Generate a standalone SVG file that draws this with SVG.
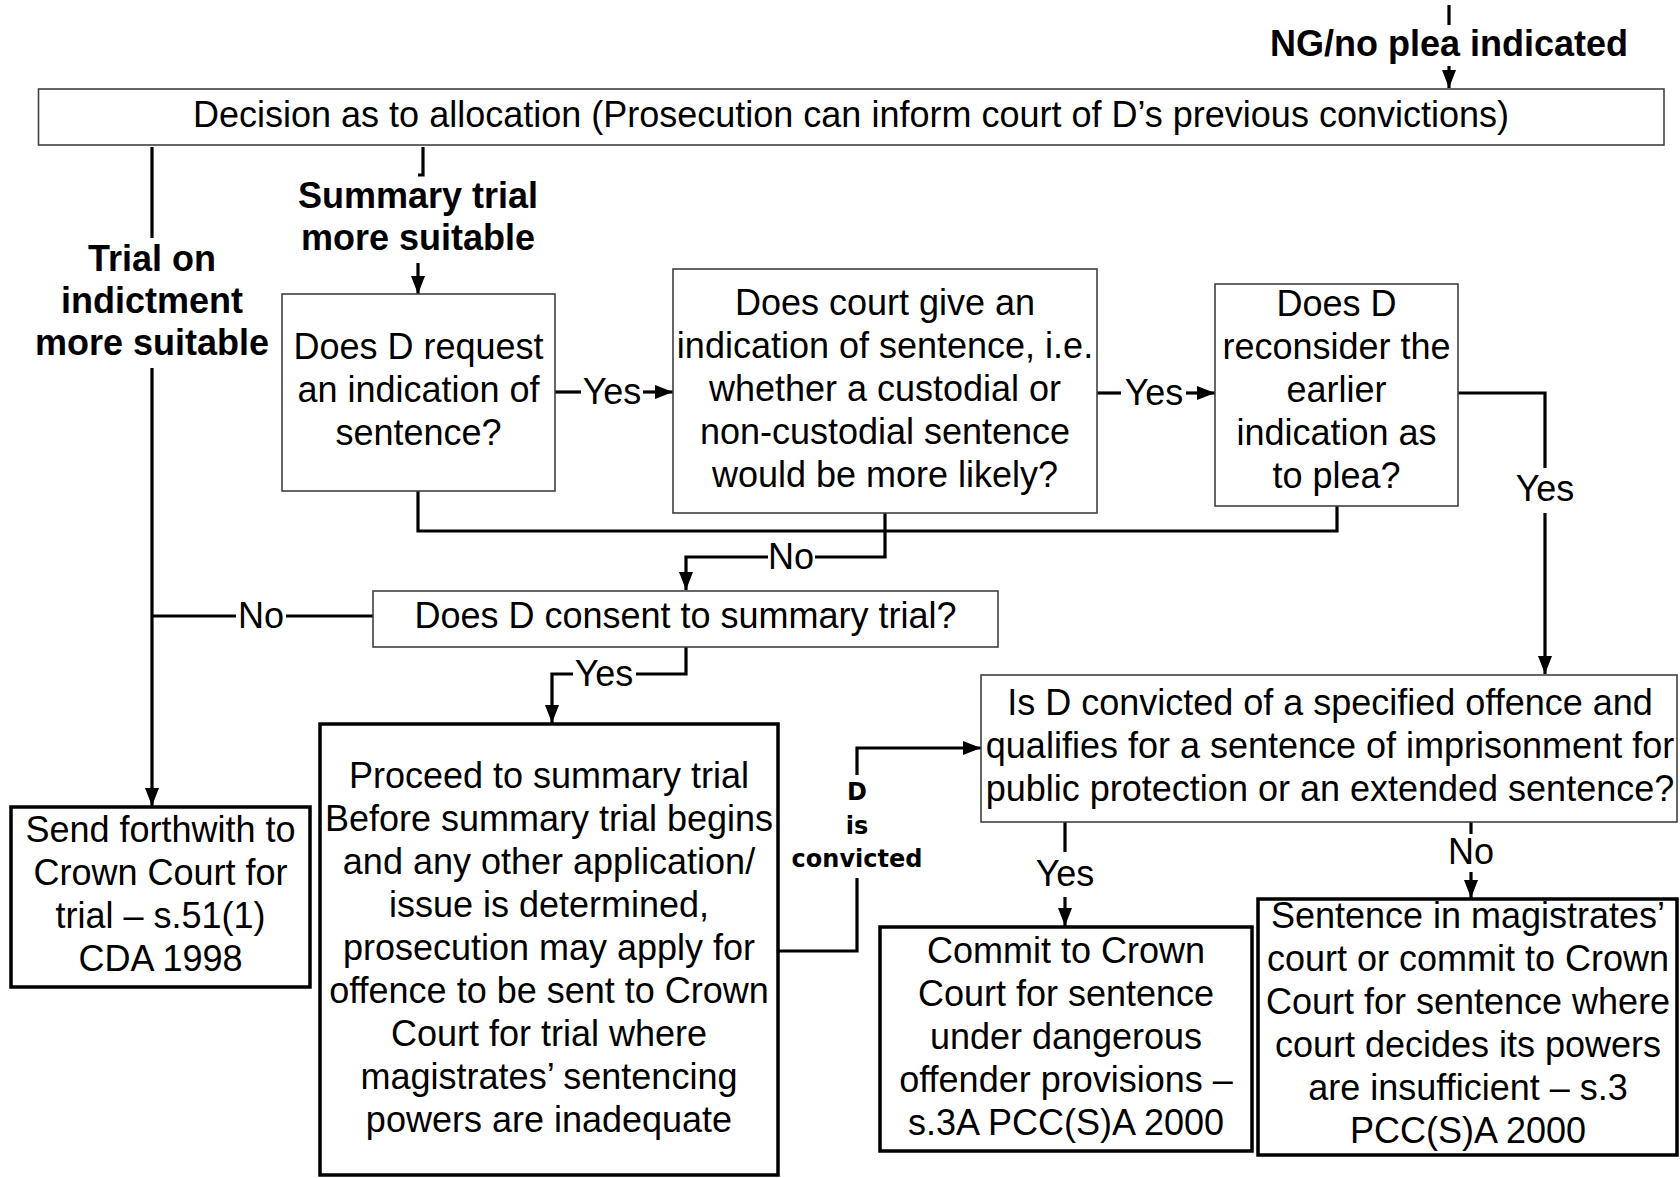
<svg xmlns="http://www.w3.org/2000/svg" width="1680" height="1178" viewBox="0 0 1680 1178">
<style>
.bg{fill:#fff}
.thin{fill:#fff;stroke:#404040;stroke-width:1.6}
.thick{fill:#fff;stroke:#000;stroke-width:3.5}
.t{font-family:"Liberation Sans",Arial,sans-serif;font-size:36px;fill:#000;text-anchor:middle}
.b{font-family:"Liberation Sans",Arial,sans-serif;font-size:36px;font-weight:bold;fill:#000;text-anchor:middle}
.s{font-family:"DejaVu Sans",Verdana,sans-serif;font-size:24px;font-weight:bold;fill:#000;text-anchor:middle}
.c{fill:none;stroke:#000;stroke-width:3.2}
.a{marker-end:url(#arr)}
</style>
<defs>
<marker id="arr" markerUnits="userSpaceOnUse" markerWidth="18" markerHeight="14" refX="18" refY="7" orient="auto">
<path d="M0,0 L18,7 L0,14 z" fill="#000"/>
</marker>
</defs>
<rect class="bg" x="0" y="0" width="1680" height="1178"/>

<g id="connectors">
<path class="c" d="M1449,5 V25"/>
<path class="c a" d="M1449,66 V88"/>
<path class="c" d="M152,147 V238"/>
<path class="c a" d="M152,368 V806"/>
<path class="c" d="M152,616 H236"/>
<path class="c" d="M286,616 H373"/>
<path class="c" d="M423,147 V175 H418"/>
<path class="c a" d="M418,263 V294"/>
<path class="c" d="M555,392 H581"/>
<path class="c a" d="M643,392 H673"/>
<path class="c" d="M1097,393 H1121"/>
<path class="c a" d="M1186,393 H1215"/>
<path class="c" d="M1458,393 H1545 V468"/>
<path class="c a" d="M1545,513 V674"/>
<path class="c" d="M418,491 V531 H1337 V506"/>
<path class="c" d="M885,513 V557 H815"/>
<path class="c a" d="M768,557 H686 V590"/>
<path class="c" d="M686,647 V674 H636"/>
<path class="c a" d="M573,674 H552 V723"/>
<path class="c" d="M778,951 H857 V878"/>
<path class="c a" d="M857,775 V748 H981"/>
<path class="c" d="M1065,822 V852"/>
<path class="c a" d="M1065,897 V926"/>
<path class="c" d="M1471,822 V834"/>
<path class="c a" d="M1471,872 V898"/>
<text class="b" x="1449" y="56">NG/no plea indicated</text>
<text class="b" x="152" y="271">Trial on</text>
<text class="b" x="152" y="313">indictment</text>
<text class="b" x="152" y="355">more suitable</text>
<text class="b" x="418" y="208">Summary trial</text>
<text class="b" x="418" y="250">more suitable</text>
<text class="t" x="261" y="628">No</text>
<text class="t" x="612" y="404">Yes</text>
<text class="t" x="1154" y="405">Yes</text>
<text class="t" x="1545" y="501">Yes</text>
<text class="t" x="791" y="569">No</text>
<text class="t" x="604" y="686">Yes</text>
<text class="s" x="857" y="800">D</text>
<text class="s" x="857" y="834">is</text>
<text class="s" x="857" y="867">convicted</text>
<text class="t" x="1065" y="886">Yes</text>
<text class="t" x="1471" y="864">No</text>
</g>

<g id="allocation">
<rect class="thin" x="38.5" y="89" width="1625.5" height="56"/>
<text class="t" x="851" y="127">Decision as to allocation (Prosecution can inform court of D’s previous convictions)</text>
</g>

<g id="request">
<rect class="thin" x="282" y="294" width="273" height="197"/>
<text class="t" x="418.5" y="359">Does D request</text>
<text class="t" x="418.5" y="402">an indication of</text>
<text class="t" x="418.5" y="445">sentence?</text>
</g>

<g id="indication">
<rect class="thin" x="673" y="269" width="424" height="244"/>
<text class="t" x="885" y="315">Does court give an</text>
<text class="t" x="885" y="358">indication of sentence, i.e.</text>
<text class="t" x="885" y="401">whether a custodial or</text>
<text class="t" x="885" y="444">non-custodial sentence</text>
<text class="t" x="885" y="487">would be more likely?</text>
</g>

<g id="reconsider">
<rect class="thin" x="1215" y="284" width="243" height="222"/>
<text class="t" x="1336.5" y="316">Does D</text>
<text class="t" x="1336.5" y="359">reconsider the</text>
<text class="t" x="1336.5" y="402">earlier</text>
<text class="t" x="1336.5" y="445">indication as</text>
<text class="t" x="1336.5" y="488">to plea?</text>
</g>

<g id="consent">
<rect class="thin" x="373" y="591" width="625" height="56"/>
<text class="t" x="685.5" y="628">Does D consent to summary trial?</text>
</g>

<g id="send">
<rect class="thick" x="11" y="807" width="299" height="180"/>
<text class="t" x="160.5" y="842">Send forthwith to</text>
<text class="t" x="160.5" y="885">Crown Court for</text>
<text class="t" x="160.5" y="928">trial – s.51(1)</text>
<text class="t" x="160.5" y="971">CDA 1998</text>
</g>

<g id="proceed">
<rect class="thick" x="320" y="724" width="458" height="451"/>
<text class="t" x="549" y="788">Proceed to summary trial</text>
<text class="t" x="549" y="831">Before summary trial begins</text>
<text class="t" x="549" y="874">and any other application/</text>
<text class="t" x="549" y="917">issue is determined,</text>
<text class="t" x="549" y="960">prosecution may apply for</text>
<text class="t" x="549" y="1003">offence to be sent to Crown</text>
<text class="t" x="549" y="1046">Court for trial where</text>
<text class="t" x="549" y="1089">magistrates’ sentencing</text>
<text class="t" x="549" y="1132">powers are inadequate</text>
</g>

<g id="dangerous">
<rect class="thin" x="981" y="675" width="696" height="147"/>
<text class="t" x="1330" y="715">Is D convicted of a specified offence and</text>
<text class="t" x="1330" y="758">qualifies for a sentence of imprisonment for</text>
<text class="t" x="1330" y="801">public protection or an extended sentence?</text>
</g>

<g id="commit">
<rect class="thick" x="880" y="927" width="372" height="224"/>
<text class="t" x="1066" y="963">Commit to Crown</text>
<text class="t" x="1066" y="1006">Court for sentence</text>
<text class="t" x="1066" y="1049">under dangerous</text>
<text class="t" x="1066" y="1092">offender provisions –</text>
<text class="t" x="1066" y="1135">s.3A PCC(S)A 2000</text>
</g>

<g id="sentence">
<rect class="thick" x="1258" y="899" width="419" height="256"/>
<text class="t" x="1468" y="928">Sentence in magistrates’</text>
<text class="t" x="1468" y="971">court or commit to Crown</text>
<text class="t" x="1468" y="1014">Court for sentence where</text>
<text class="t" x="1468" y="1057">court decides its powers</text>
<text class="t" x="1468" y="1100">are insufficient – s.3</text>
<text class="t" x="1468" y="1143">PCC(S)A 2000</text>
</g>
</svg>
